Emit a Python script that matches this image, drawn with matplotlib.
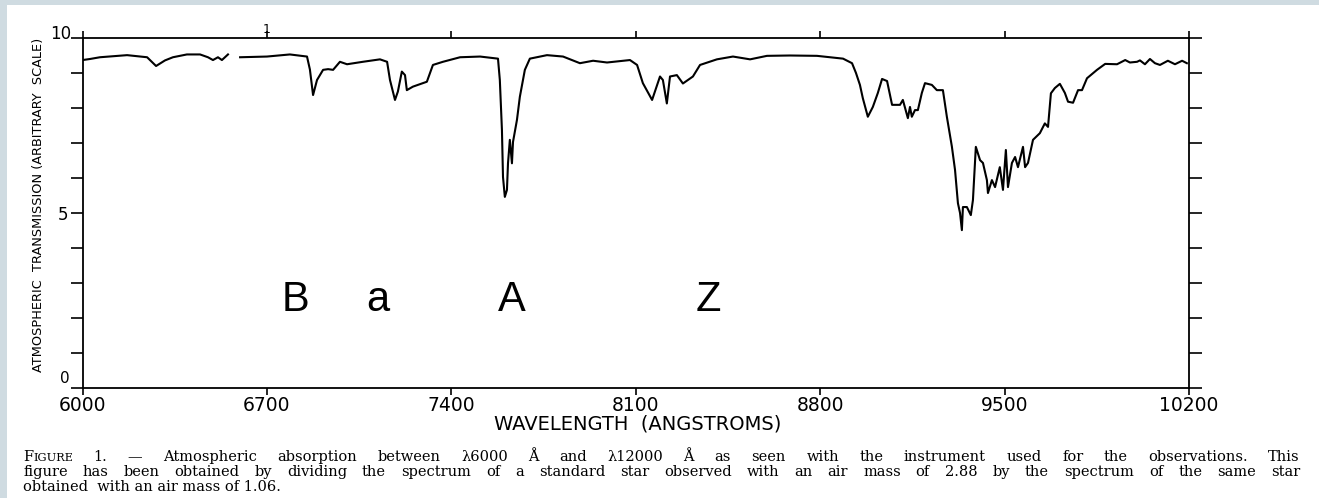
import matplotlib
matplotlib.use('Agg')

import numpy as np
import matplotlib.pyplot as plt
from matplotlib.patches import Rectangle

wavelength = [6000, 6028, 6066, 6169, 6245, 6279, 6313, 6343, 6396, 6446,
              6476, 6495, 6514, 6529, 6552, 6575, 6598, 6700, 6787, 6852,
              6863, 6875, 6890, 6913, 6932, 6951, 6977, 7004, 7064, 7129,
              7156, 7167, 7186, 7197, 7212, 7224, 7231, 7254, 7307, 7330,
              7368, 7433, 7509, 7577, 7584, 7592, 7596, 7603, 7611, 7615,
              7622, 7630, 7634, 7649, 7660, 7679, 7698, 7763, 7824, 7888,
              7938, 7991, 8078, 8105, 8127, 8162, 8192, 8203, 8218, 8230,
              8256, 8279, 8317, 8344, 8408, 8469, 8534, 8598, 8685, 8788,
              8887, 8921, 8936, 8951, 8962, 8981, 9000, 9019, 9035, 9054,
              9073, 9103, 9114, 9133, 9141, 9148, 9160, 9171, 9186, 9198,
              9224, 9243, 9266, 9281, 9300, 9312, 9323, 9331, 9338, 9342,
              9357, 9372, 9380, 9391, 9407, 9418, 9433, 9437, 9452, 9464,
              9482, 9494, 9505, 9513, 9528, 9540, 9551, 9570, 9578, 9589,
              9608, 9634, 9653, 9665, 9676, 9691, 9710, 9729, 9741, 9760,
              9779, 9794, 9813, 9851, 9882, 9927, 9958, 9976, 10003, 10014,
              10033, 10052, 10071, 10090, 10120, 10147, 10174, 10192]
transmission = [9.37, 9.40, 9.45, 9.51, 9.45, 9.20, 9.36, 9.45, 9.53, 9.53,
                9.45, 9.37, 9.45, 9.37, 9.53, np.nan, 9.45, 9.47, 9.53, 9.47,
                9.10, 8.37, 8.80, 9.09, 9.11, 9.09, 9.32, 9.25, 9.32, 9.39,
                9.32, 8.80, 8.23, 8.47, 9.04, 8.94, 8.51, 8.61, 8.75, 9.23,
                9.32, 9.45, 9.47, 9.41, 8.80, 7.37, 6.03, 5.46, 5.66, 6.42,
                7.09, 6.42, 7.03, 7.66, 8.32, 9.09, 9.41, 9.51, 9.47, 9.28,
                9.35, 9.30, 9.37, 9.23, 8.71, 8.23, 8.90, 8.80, 8.13, 8.90,
                8.94, 8.70, 8.90, 9.23, 9.39, 9.47, 9.39, 9.49, 9.50, 9.49,
                9.41, 9.28, 9.00, 8.66, 8.28, 7.75, 8.03, 8.43, 8.83, 8.77,
                8.09, 8.09, 8.23, 7.71, 8.03, 7.75, 7.94, 7.94, 8.43, 8.71,
                8.66, 8.51, 8.51, 7.75, 6.90, 6.23, 5.28, 5.00, 4.51, 5.17,
                5.17, 4.94, 5.37, 6.89, 6.51, 6.43, 5.94, 5.57, 5.94, 5.74,
                6.31, 5.66, 6.80, 5.74, 6.43, 6.60, 6.31, 6.89, 6.31, 6.43,
                7.09, 7.28, 7.56, 7.46, 8.42, 8.57, 8.69, 8.43, 8.18, 8.15,
                8.51, 8.51, 8.85, 9.09, 9.26, 9.25, 9.37, 9.30, 9.32, 9.36,
                9.25, 9.40, 9.28, 9.23, 9.35, 9.25, 9.35, 9.28]

xticks = [6000, 6700, 7400, 8100, 8800, 9500, 10200]
xtick_labels = ['6000', '6700', '7400', '8100', '8800', '9500', '10200']
yticks = list(range(0, 11))
ytick_labels = ['', '', '', '', '', '5', '', '', '', '', '']

band_names = ['B', 'a', 'A', 'Z']
band_wavelength = [6810, 7121, 7630, 8374]

caption_lines = [
    'FIGURE 1. \u2014 Atmospheric absorption between \u03bb6000 \u00c5 and \u03bb12000 \u00c5 as seen with the instrument used for the observations. This',
    'figure has been obtained by dividing the spectrum of a standard star observed with an air mass of 2.88 by the spectrum of the same star',
    'obtained  with an air mass of 1.06.',
]
caption_baselines = [461, 476, 491]   # pixels from the top
caption_left, caption_right = 23, 1300
caption_size = 10.5


def justify(fig, renderer, words, y, size):
    '''
    Place the words of one caption line so that they fill the full width.
    '''
    texts = []
    for w in words:
        if w == 'FIGURE':
            t = fig.text(0, y, 'F', fontsize=size, family='DejaVu Serif', va='baseline')
            t2 = fig.text(0, y, 'IGURE', fontsize=size * 0.78, family='DejaVu Serif', va='baseline')
            texts.append([t, t2])
        else:
            texts.append([fig.text(0, y, w, fontsize=size, family='DejaVu Serif', va='baseline')])
    widths = [sum(t.get_window_extent(renderer).width for t in grp) for grp in texts]
    gap = (caption_right - caption_left - sum(widths)) / (len(words) - 1)
    x = caption_left
    for grp, wd in zip(texts, widths):
        for t in grp:
            t.set_x(x / 1319)
            x += t.get_window_extent(renderer).width
        x += gap


fig = plt.figure(figsize=(13.19, 4.98), dpi=100)
fig.patch.set_facecolor('#cfdbe1')
fig.patches.append(Rectangle((7 / 1319, 0), 1, 1 - 5 / 498, transform=fig.transFigure,
                             facecolor='white', edgecolor='none', zorder=-5))

ax = fig.add_axes([0.0626, 0.2209, 0.8388, 0.7028])
ax.set_facecolor('none')
ax.plot(wavelength, transmission, color='black', linewidth=1.5)

ax.set_xlim(6000, 10200)
ax.set_ylim(0, 10)
for side in ['left', 'right', 'top', 'bottom']:
    ax.spines[side].set_linewidth(1.3)

ax.set_xticks(xticks)
ax.set_xticklabels(xtick_labels, fontsize=13.5)
ax.set_yticks(yticks)
ax.set_yticklabels(ytick_labels, fontsize=12)
ax.tick_params(axis='x', direction='out', length=5, width=1.2, top=True, pad=1)
ax.tick_params(axis='y', direction='out', length=9, width=1.2, right=True, pad=1)

# '0' sits just above the corner, '10' at the top-left corner,
# '1' is a stray label above the top axis
ax.text(-0.012, 0.005, '0', transform=ax.transAxes, ha='right', va='bottom', fontsize=11)
ax.text(-0.02, 1.012, '10', transform=ax.transAxes, ha='center', va='center', fontsize=12)
ax.text(6700, 10.05, '1', ha='center', va='bottom', fontsize=9)

ax.set_xlabel('WAVELENGTH  (ANGSTROMS)', fontsize=14, labelpad=-2)
ax.xaxis.set_label_coords(0.502, -0.075)
ax.set_ylabel('ATMOSPHERIC  TRANSMISSION (ARBITRARY  SCALE)', fontsize=9.3,
              family=['Liberation Sans Narrow', 'DejaVu Sans'])
ax.yaxis.set_label_coords(-0.034, 0.523)

for name, wl in zip(band_names, band_wavelength):
    ax.text(wl, 2.5, name, ha='center', va='center', fontsize=30, family='Liberation Sans')

# Caption: the first two lines are justified, the last one is left aligned
renderer = fig.canvas.get_renderer()
for line, base in zip(caption_lines[:2], caption_baselines[:2]):
    justify(fig, renderer, line.split(), 1 - base / 498, caption_size)
fig.text(caption_left / 1319, 1 - caption_baselines[2] / 498, caption_lines[2], fontsize=caption_size,
         family='DejaVu Serif', va='baseline')

fig.savefig('out.png', dpi=100, facecolor=fig.get_facecolor())
